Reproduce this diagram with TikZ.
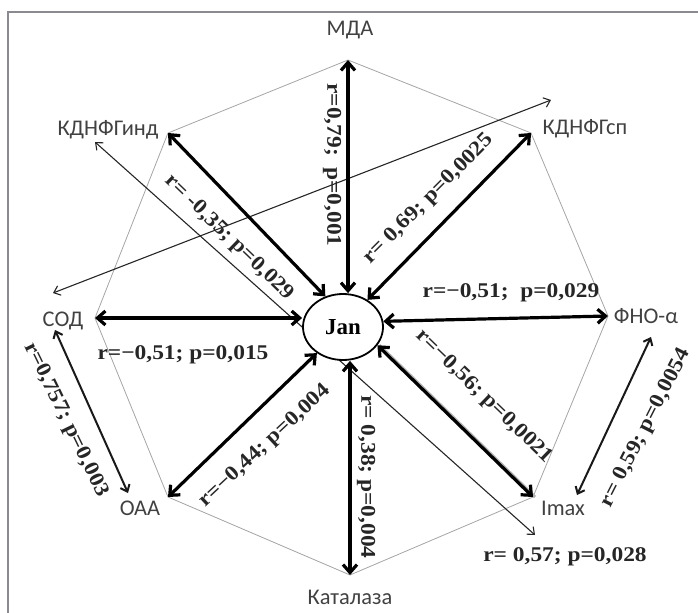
\documentclass[tikz,border=0pt]{standalone}
\usepackage{fontspec}
\setmainfont{Liberation Serif}
\newfontfamily\lblfont{Carlito}
\newfontfamily\numfont[FakeStretch=1.12]{Liberation Serif}
\usetikzlibrary{arrows.meta,shapes.geometric}
\definecolor{framegray}{RGB}{138,138,144}
\definecolor{octgray}{RGB}{165,165,165}
\definecolor{lblgray}{RGB}{65,65,65}
\tikzset{
  frameline/.style={draw=framegray, line width=2.2bp},
  octo/.style={draw=octgray, line width=0.8bp},
  varname/.style={font=\lblfont\fontsize{22.5}{22.5}\selectfont, text=lblgray, inner sep=0pt},
  stat/.style={font=\numfont\bfseries\fontsize{21}{21}\selectfont, text=black!85, inner sep=0pt},
  janell/.style={ellipse, draw, line width=1.8bp, fill=white, minimum width=80bp, minimum height=66bp, inner sep=0pt, font=\bfseries\fontsize{23}{23}\selectfont},
  thickarr/.style={line width=3.2bp, {Straight Barb[length=8bp,width=14bp]}-{Straight Barb[length=8bp,width=14bp]}},
  medarr/.style={line width=2bp, black!90, {Straight Barb[length=6bp,width=10bp]}-{Straight Barb[length=6bp,width=10bp]}},
  thinarr/.style={line width=1.1bp, black!85, {Straight Barb[length=6bp,width=10bp]}-{Straight Barb[length=6bp,width=10bp]}},
}
\begin{document}
\begin{tikzpicture}[x=1bp,y=-1bp]
\useasboundingbox (0,0) rectangle (698,613);
% frame
\coordinate (fbl) at (8,613);
\coordinate (ftl) at (8,12);
\coordinate (ftr) at (698,12);
\draw[frameline] (fbl) -- (ftl) -- (ftr);
% octagon vertices
\coordinate (vMDA) at (348,60);
\coordinate (vKsp) at (531,133);
\coordinate (vTNF) at (608,316);
\coordinate (vImax) at (533,497);
\coordinate (vKat) at (350,575);
\coordinate (vOAA) at (168,497);
\coordinate (vSOD) at (95,318);
\coordinate (vKind) at (168,133);
\draw[octo] (vMDA) -- (vKsp) -- (vTNF) -- (vImax) -- (vKat) -- (vOAA) -- (vSOD) -- (vKind) -- cycle;
% free ends of the thin and medium arrows
\coordinate (t1a) at (95,142);
\coordinate (t1b) at (535,535);
\coordinate (t2a) at (53,293);
\coordinate (t2b) at (551,100);
\coordinate (m1a) at (55,330);
\coordinate (m1b) at (128,493);
\coordinate (m2a) at (651,337);
\coordinate (m2b) at (577,495);
\draw[thinarr] (t1a) -- (t1b);
\draw[thinarr] (t2a) -- (t2b);
\draw[medarr] (m1a) -- (m1b);
\draw[medarr] (m2a) -- (m2b);
% centre
\node[janell] (jan) at (343,327) {Jan};
% variable names
\node[varname] (nMDA) at (350,30) {МДА};
\node[varname] (nKind) at (108,130) {КДНФГинд};
\node[varname] (nKsp) at (585,129) {КДНФГсп};
\node[varname] (nSOD) at (63,321) {СОД};
\node[varname] (nTNF) at (646,316) {ФНО-α};
\node[varname] (nOAA) at (140,508) {ОАА};
\node[varname] (nImax) at (563,508) {Imax};
\node[varname] (nKat) at (350,597) {Каталаза};
% thick arrows
\draw[thickarr] (vMDA) -- (vMDA |- jan.north);
\draw[thickarr] (vKsp) -- (jan.48);
\draw[thickarr] (vTNF) -- (jan.8);
\draw[line width=3bp, black!30, transform canvas={xshift=2bp}] (vImax) -- (jan.-28);
\draw[thickarr] (vImax) -- (jan.-28);
\draw[thickarr] (vKat) -- (vKat |- jan.south);
\draw[thickarr] (vOAA) -- (jan.225);
\draw[thickarr] (vSOD) -- (vSOD -| jan.west);
\draw[thickarr] (vKind) -- (jan.120);
% statistics
\node[stat, rotate=-90] (s1) at (332,165) {r=0,79;\ \ p=0,001};
\node[stat, rotate=45] (s2) at (429,199) {r= 0,69; p=0,0025};
\node[stat] (s3) at (511,293) {r=−0,51;\ \ p=0,029};
\node[stat, rotate=-44] (s4) at (484,397) {r=−0,56; p=0,0021};
\node[stat, rotate=-90] (s5) at (366,477) {r= 0,38; p=0,004};
\node[stat, rotate=43] (s6) at (265,446) {r=−0,44; p=0,004};
\node[stat] (s7) at (183,355) {r=−0,51; p=0,015};
\node[stat, rotate=-44] (s8) at (229,238) {r= -0,35; p=0,029};
\node[stat] (s9) at (565,557) {r= 0,57; p=0,028};
\node[stat, rotate=63] (s10) at (646,428) {r= 0,59; p=0,0054};
\node[stat, rotate=-64] (s11) at (66,420) {r=0,757; p=0,003};
\end{tikzpicture}
\end{document}
